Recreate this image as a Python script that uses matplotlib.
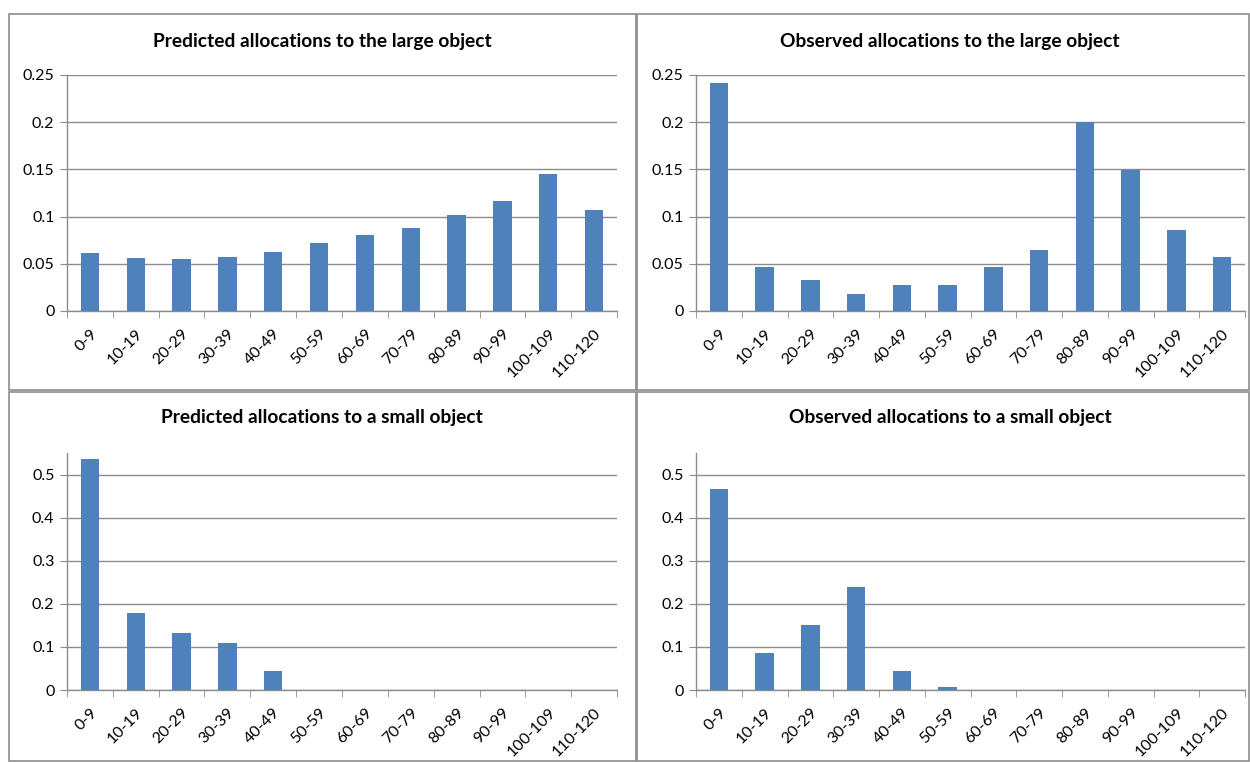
import matplotlib
matplotlib.use("Agg")
import matplotlib.pyplot as plt
from matplotlib.patches import Rectangle
import numpy as np

plt.rcParams['font.family'] = ['Lato', 'DejaVu Sans']

categories = ["0-9", "10-19", "20-29", "30-39", "40-49", "50-59", "60-69",
              "70-79", "80-89", "90-99", "100-109", "110-120"]

predicted_large = [0.061, 0.056, 0.055, 0.057, 0.062, 0.072, 0.081, 0.088,
                   0.102, 0.117, 0.145, 0.107]
observed_large = [0.241, 0.047, 0.033, 0.018, 0.028, 0.028, 0.047, 0.065,
                  0.200, 0.149, 0.086, 0.057]
predicted_small = [0.535, 0.178, 0.132, 0.108, 0.044, 0, 0, 0, 0, 0, 0, 0]
observed_small = [0.467, 0.087, 0.151, 0.240, 0.044, 0.007, 0, 0, 0, 0, 0, 0]

titles = ["Predicted allocations to the large object",
          "Observed allocations to the large object",
          "Predicted allocations to a small object",
          "Observed allocations to a small object"]

large_ticks = [0, 0.05, 0.1, 0.15, 0.2, 0.25]
large_labels = ["0", "0.05", "0.1", "0.15", "0.2", "0.25"]
small_ticks = [0, 0.1, 0.2, 0.3, 0.4, 0.5]
small_labels = ["0", "0.1", "0.2", "0.3", "0.4", "0.5"]

W, H = 1250, 762
fig = plt.figure(figsize=(W / 100, H / 100), dpi=100)
fig.patch.set_facecolor("white")

BAR = "#4F81BD"
GRID = "#8C8C8C"

# panel frames (pixels: x0, y0_top, x1, y1_bottom)
frames = [(9, 14, 636, 390), (637, 14, 1249, 390),
          (9, 392, 636, 761), (637, 392, 1249, 761)]
for (x0, y0, x1, y1) in frames:
    fig.add_artist(Rectangle((x0 / W, 1 - y1 / H), (x1 - x0) / W, (y1 - y0) / H,
                             transform=fig.transFigure, fill=False,
                             edgecolor="#8C8C8C", linewidth=1.2))

# axes boxes (left, right, top, bottom) in pixels
boxes = [(67, 617, 75, 311), (696, 1245, 75, 311),
         (67, 617, 453, 690), (696, 1245, 453, 690)]
data = [predicted_large, observed_large, predicted_small, observed_small]
title_pos = [(322, 42), (950, 42), (322, 418), (950, 418)]

x = np.arange(len(categories))
for i, (vals, (l, r, t, b)) in enumerate(zip(data, boxes)):
    ax = fig.add_axes([l / W, 1 - b / H, (r - l) / W, (b - t) / H])
    ax.bar(x, vals, width=0.4, color=BAR, zorder=3)
    ax.set_xlim(-0.5, len(categories) - 0.5)
    if i < 2:
        ax.set_ylim(0, 0.25)
        ax.set_yticks(large_ticks)
        ax.set_yticklabels(large_labels)
    else:
        ax.set_ylim(0, 0.55)
        ax.set_yticks(small_ticks)
        ax.set_yticklabels(small_labels)
    ax.yaxis.grid(True, color=GRID, linewidth=1, zorder=0)
    ax.set_axisbelow(True)
    for s in ["top", "right"]:
        ax.spines[s].set_visible(False)
    for s in ["left", "bottom"]:
        ax.spines[s].set_color(GRID)
        ax.spines[s].set_linewidth(1)
    ax.set_xticks(x)
    ax.set_xticklabels(categories, rotation=45, ha="right",
                       rotation_mode="anchor", fontsize=11.5)
    ax.set_xticks(np.arange(-0.5, len(categories), 1.0), minor=True)
    ax.tick_params(axis="x", which="major", length=0, pad=11)
    ax.tick_params(axis="x", which="minor", length=5, color=GRID, direction="out")
    ax.tick_params(axis="y", length=5, color=GRID, labelsize=11.5, pad=4)
    tx, ty = title_pos[i]
    fig.text(tx / W, 1 - ty / H, titles[i], ha="center", va="center",
             fontsize=13.8, fontweight="bold")

fig.savefig("out.png", dpi=100, facecolor="white")
